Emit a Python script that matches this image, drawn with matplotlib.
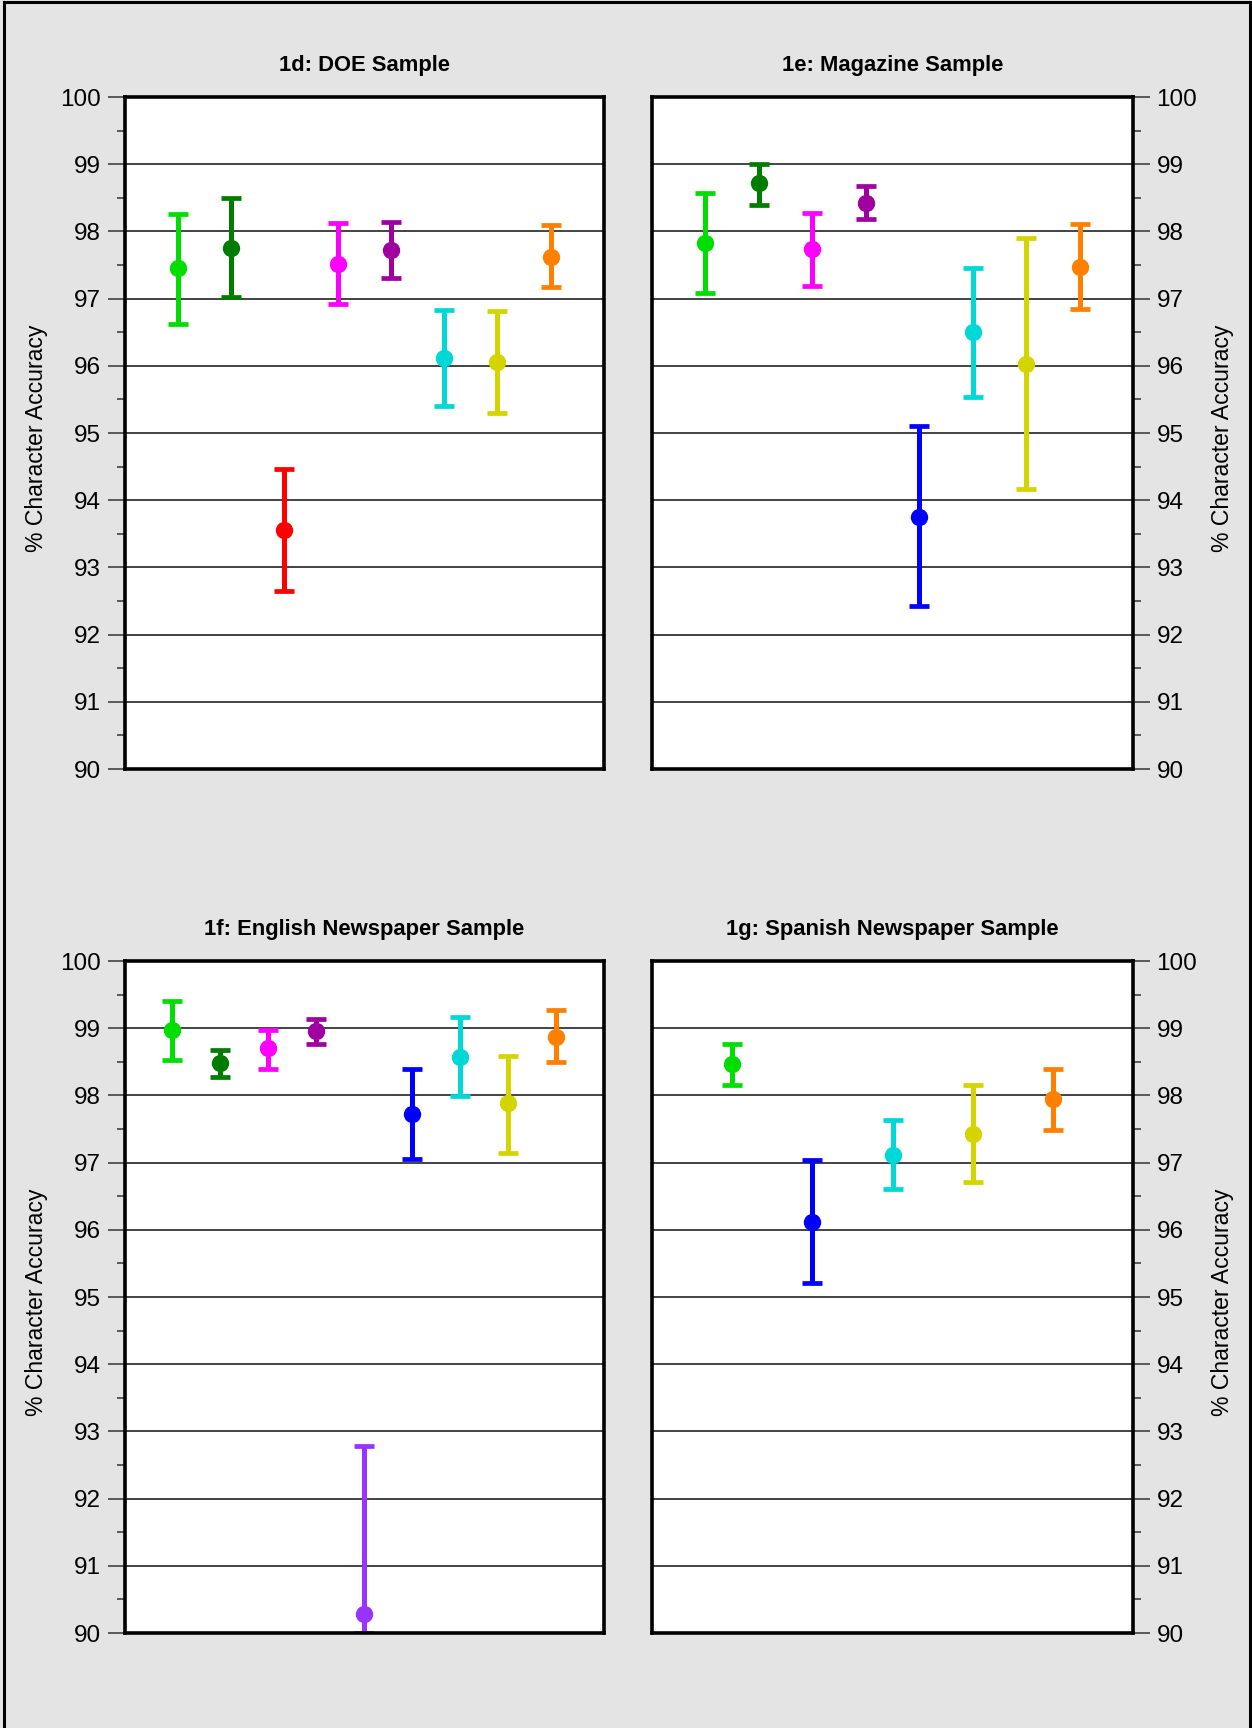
import matplotlib.pyplot as plt
from matplotlib.patches import Rectangle
from matplotlib.ticker import MultipleLocator

W, H = 1252, 1728
BG = "#e4e4e4"

# colour for each engine
palette = {
    "eng_a": "#00dd00",
    "eng_b": "#007d00",
    "eng_c": "#ff0000",
    "eng_d": "#ff00ff",
    "eng_e": "#a000a0",
    "eng_f": "#9933ff",
    "eng_g": "#0000ff",
    "eng_h": "#00d8d8",
    "eng_i": "#d4d400",
    "eng_j": "#ff8000",
}

# 1d: DOE sample
doe_keys = ["eng_a", "eng_b", "eng_c", "eng_d", "eng_e", "eng_h", "eng_i", "eng_j"]
doe_mean = [97.45, 97.75, 93.56, 97.51, 97.72, 96.11, 96.06, 97.62]
doe_lo = [96.62, 97.02, 92.65, 96.92, 97.30, 95.40, 95.30, 97.17]
doe_hi = [98.26, 98.50, 94.47, 98.12, 98.14, 96.83, 96.82, 98.09]

# 1e: magazine sample
mag_keys = ["eng_a", "eng_b", "eng_d", "eng_e", "eng_g", "eng_h", "eng_i", "eng_j"]
mag_mean = [97.83, 98.72, 97.74, 98.42, 93.75, 96.50, 96.03, 97.47]
mag_lo = [97.09, 98.40, 97.19, 98.18, 92.42, 95.54, 94.16, 96.85]
mag_hi = [98.57, 99.01, 98.28, 98.68, 95.11, 97.45, 97.90, 98.11]

# 1f: English newspaper sample
eng_keys = ["eng_a", "eng_b", "eng_d", "eng_e", "eng_f", "eng_g", "eng_h", "eng_i", "eng_j"]
eng_mean = [98.97, 98.48, 98.70, 98.96, 90.29, 97.73, 98.57, 97.88, 98.87]
eng_lo = [98.53, 98.27, 98.40, 98.77, 90.00, 97.05, 97.99, 97.15, 98.50]
eng_hi = [99.41, 98.68, 98.97, 99.14, 92.78, 98.39, 99.16, 98.59, 99.27]

# 1g: Spanish newspaper sample
spa_keys = ["eng_a", "eng_g", "eng_h", "eng_i", "eng_j"]
spa_mean = [98.46, 96.12, 97.11, 97.43, 97.94]
spa_lo = [98.15, 95.21, 96.60, 96.71, 97.48]
spa_hi = [98.76, 97.04, 97.63, 98.16, 98.39]

panels = [
    ("1d: DOE Sample", doe_keys, doe_mean, doe_lo, doe_hi),
    ("1e: Magazine Sample", mag_keys, mag_mean, mag_lo, mag_hi),
    ("1f: English Newspaper Sample", eng_keys, eng_mean, eng_lo, eng_hi),
    ("1g: Spanish Newspaper Sample", spa_keys, spa_mean, spa_lo, spa_hi),
]

# axes boxes in pixels: (left, top, right, bottom)
boxes = [
    (124.5, 97, 604, 769),
    (652, 97, 1133, 769),
    (124.5, 961, 604, 1633),
    (652, 961, 1133, 1633),
]


def px_rect(l, t, r, b):
    return [l / W, 1 - b / H, (r - l) / W, (b - t) / H]


fig = plt.figure(figsize=(W / 100, H / 100), dpi=100, facecolor=BG)

# outer frame (open at the bottom edge)
fig.patches.append(Rectangle((4 / W, -0.01), (1250 - 4) / W, 1.01 - 1.5 / H,
                             transform=fig.transFigure, fill=False,
                             edgecolor="black", linewidth=2.2))

for i, (title, keys, mean, lo, hi) in enumerate(panels):
    l, t, r, b = boxes[i]
    ax = fig.add_axes(px_rect(l, t, r, b))
    ax.set_facecolor("white")
    n = len(mean)
    ax.set_xlim(0, n + 1)
    ax.set_ylim(90, 100)
    ax.set_xticks([])
    ax.yaxis.set_major_locator(MultipleLocator(1))
    ax.yaxis.set_minor_locator(MultipleLocator(0.5))
    for s in ax.spines.values():
        s.set_linewidth(2.6)
        s.set_zorder(5)
    for v in range(91, 100):
        ax.axhline(v, color="#111111", lw=1.1, zorder=1)

    for j in range(n):
        c = palette[keys[j]]
        ax.errorbar(j + 1, mean[j], yerr=[[mean[j] - lo[j]], [hi[j] - mean[j]]],
                    fmt="o", color=c, ms=11.5, lw=3.6, capsize=7.5, capthick=3.4,
                    zorder=3)

    right = (i % 2 == 1)
    if right:
        ax.yaxis.tick_right()
    ax.tick_params(axis="y", which="major", length=12, width=1.1, pad=5,
                   labelsize=17.5, color="#333333")
    ax.tick_params(axis="y", which="minor", length=6, width=1.1, color="#333333")
    for lab in ax.get_yticklabels():
        lab.set_family("Liberation Sans")

    fig.text((l + r) / 2 / W, 1 - (t - 31) / H, title, ha="center", va="center",
             fontsize=15.8, fontweight="bold", family="Liberation Sans")
    lx = 1222 if right else 37
    fig.text(lx / W, 1 - ((t + b) / 2 + 5) / H, "% Character Accuracy",
             rotation=90, ha="center", va="center", fontsize=16.6,
             family="Liberation Sans")

fig.savefig("out.png", dpi=100, facecolor=BG)
